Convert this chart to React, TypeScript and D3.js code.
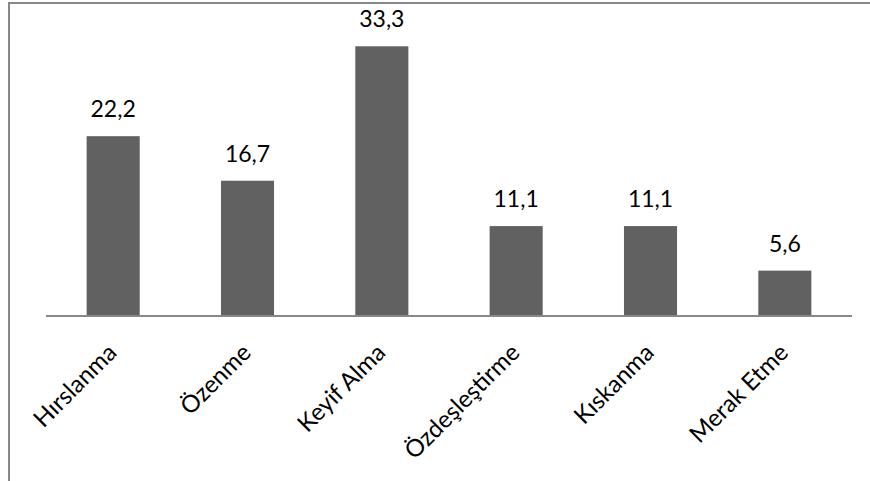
import React from "react";
import * as d3 from "d3";

const categories = ["Hırslanma", "Özenme", "Keyif Alma", "Özdeşleştirme", "Kıskanma", "Merak Etme"];
const values = [22.2, 16.7, 33.3, 11.1, 11.1, 5.6];
const valueLabels = ["22,2", "16,7", "33,3", "11,1", "11,1", "5,6"];

const W = 870;
const H = 481;
const FONT = "Lato, 'Open Sans', sans-serif";

export default function App() {
  const x = d3.scaleBand<string>().domain(categories).range([46, 852]).paddingInner(0.605).paddingOuter(0.3025);
  const y = d3.scaleLinear().domain([0, 35]).range([316, 32.5]);
  return (
    <svg width={W} height={H} style={{ position: "absolute", left: 0, top: 0, background: "#fff" }}>
      <rect x={9} y={3} width={W + 20} height={H + 20} fill="#fff" stroke="#888" strokeWidth={2} />
      {categories.map((c, i) => (
        <rect key={c} x={x(c)!} y={y(values[i])} width={x.bandwidth()} height={y(0) - y(values[i])} fill="#616161" />
      ))}
      <line x1={46} x2={852} y1={y(0)} y2={y(0)} stroke="#888" strokeWidth={2} />
      {categories.map((c, i) => (
        <text key={"v" + c} x={x(c)! + x.bandwidth() / 2} y={y(values[i]) - 19} textAnchor="middle" fontFamily={FONT} fontSize={23} fill="#000">
          {valueLabels[i]}
        </text>
      ))}
      {categories.map((c) => {
        const cx = x(c)! + x.bandwidth() / 2;
        return (
          <text key={"c" + c} transform={`translate(${cx + 5},${354}) rotate(-45)`} textAnchor="end" fontFamily={FONT} fontSize={24} fill="#000">
            {c}
          </text>
        );
      })}
    </svg>
  );
}
